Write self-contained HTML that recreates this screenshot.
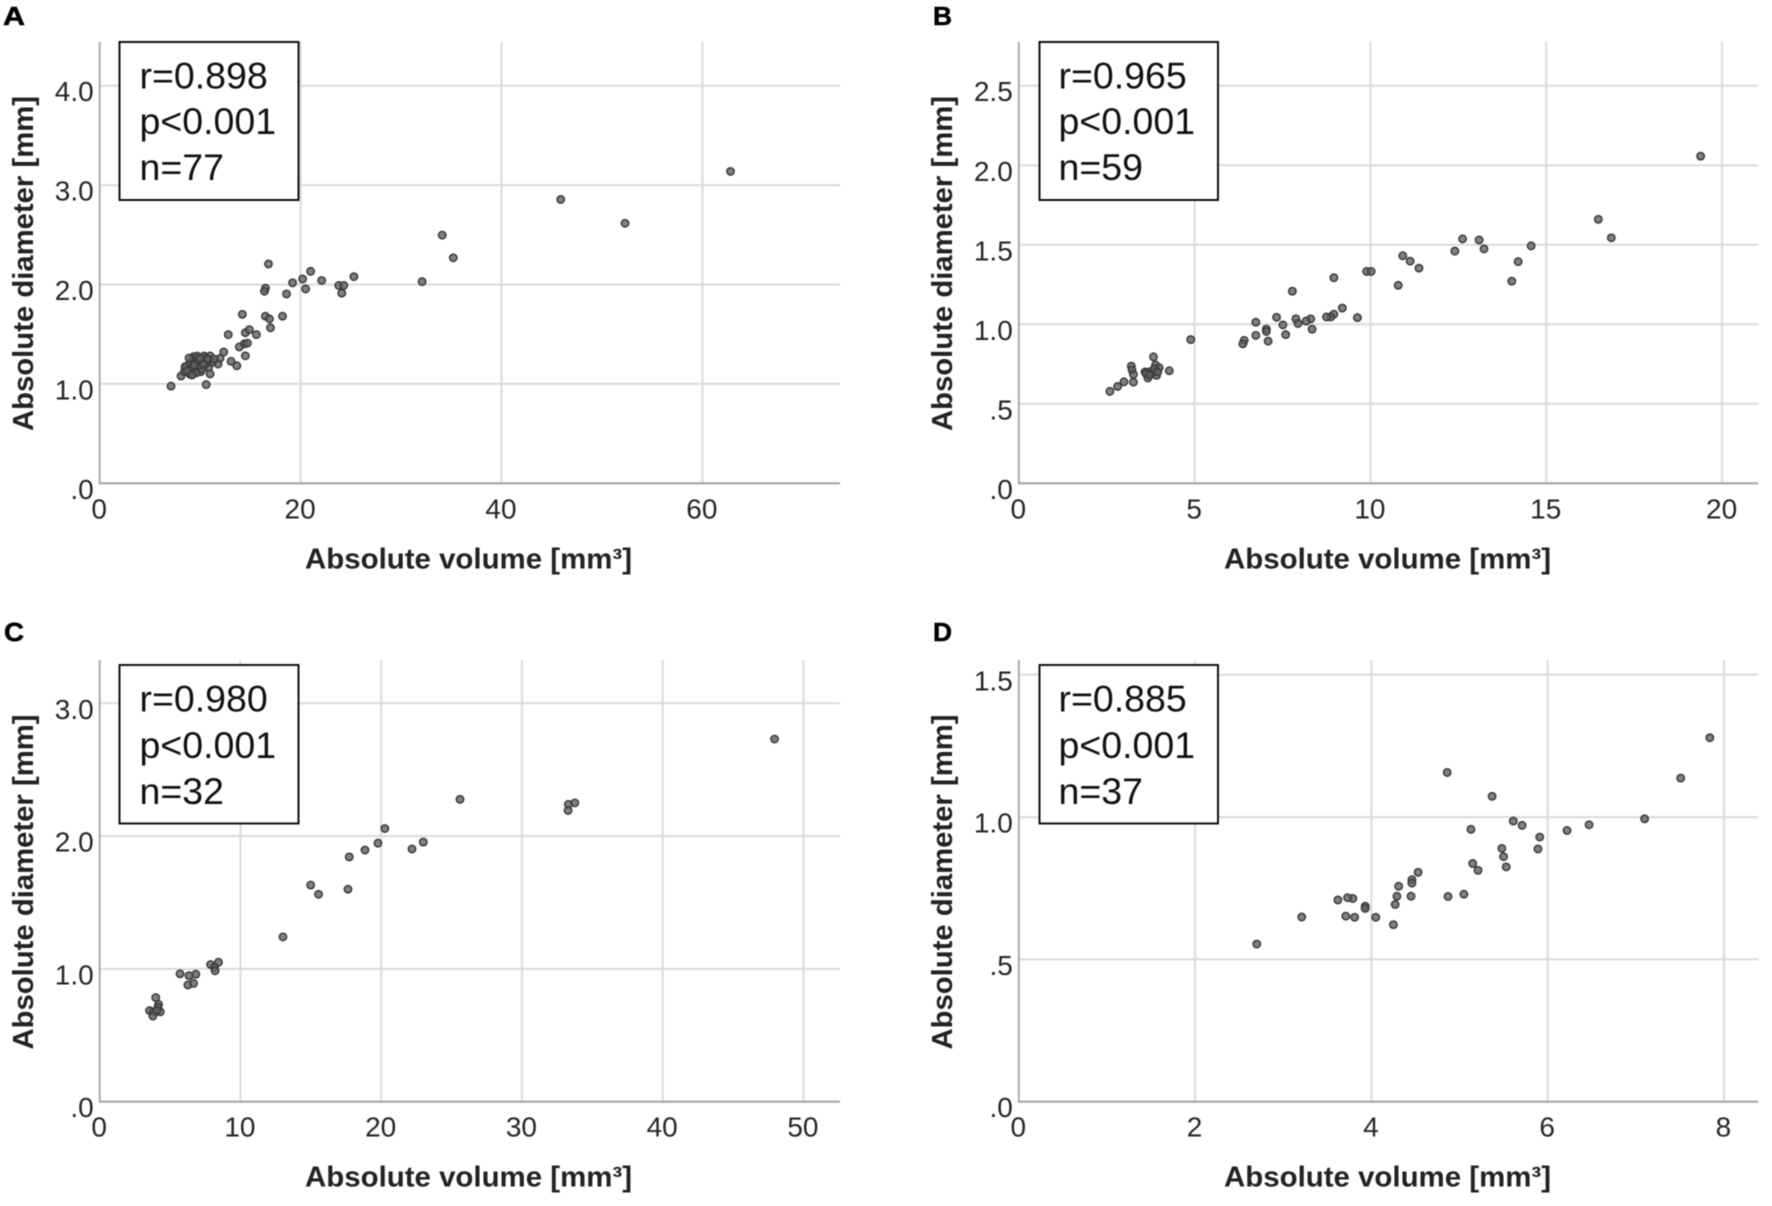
<!DOCTYPE html>
<html lang="en">
<head>
<meta charset="utf-8">
<title>Absolute diameter vs absolute volume</title>
<style>
html,body{margin:0;padding:0;background:#fff;}
body{width:1772px;height:1206px;overflow:hidden;}
svg{display:block;filter:blur(0.6px);}
text{font-family:"Liberation Sans",Arial,sans-serif;fill:#1a1a1a;}
.letter{font-weight:700;font-size:26px;fill:#000;stroke:#000;stroke-width:0.5px;}
.title{font-weight:700;font-size:28.5px;fill:#222;}
.stat{font-size:37.5px;fill:#111;}
.tick{font-size:28px;fill:#262626;}
.box{fill:#fff;stroke:#111;stroke-width:2;}
</style>
</head>
<body>
<svg id="figure" width="1772" height="1206" viewBox="0 0 1772 1206" xmlns="http://www.w3.org/2000/svg">
  <rect width="1772" height="1206" fill="#fff"/>

  <g id="panel-a">
    <g id="a-axes"></g>
    <text class="letter" x="3" y="25" textLength="22" lengthAdjust="spacingAndGlyphs">A</text>
    <text class="title" transform="translate(33,431) rotate(-90)" textLength="335" lengthAdjust="spacingAndGlyphs">Absolute diameter [mm]</text>
    <text class="title" x="305" y="568.5" textLength="327" lengthAdjust="spacingAndGlyphs">Absolute volume [mm³]</text>
    <rect class="box" x="119.5" y="42" width="179" height="158"/>
    <text class="stat" x="139.5" y="88.5">r=0.898</text>
    <text class="stat" x="139.5" y="134">p&lt;0.001</text>
    <text class="stat" x="139.5" y="180">n=77</text>
    <g id="a-points"></g>
  </g>

  <g id="panel-b">
    <g id="b-axes"></g>
    <text class="letter" x="933" y="25" textLength="19" lengthAdjust="spacingAndGlyphs">B</text>
    <text class="title" transform="translate(952,431) rotate(-90)" textLength="335" lengthAdjust="spacingAndGlyphs">Absolute diameter [mm]</text>
    <text class="title" x="1224" y="568.5" textLength="327" lengthAdjust="spacingAndGlyphs">Absolute volume [mm³]</text>
    <rect class="box" x="1039.5" y="42" width="178.5" height="158"/>
    <text class="stat" x="1058.5" y="88.5">r=0.965</text>
    <text class="stat" x="1058.5" y="134">p&lt;0.001</text>
    <text class="stat" x="1058.5" y="180">n=59</text>
    <g id="b-points"></g>
  </g>

  <g id="panel-c">
    <g id="c-axes"></g>
    <text class="letter" x="4" y="641" textLength="20" lengthAdjust="spacingAndGlyphs">C</text>
    <text class="title" transform="translate(33,1049.5) rotate(-90)" textLength="335" lengthAdjust="spacingAndGlyphs">Absolute diameter [mm]</text>
    <text class="title" x="305" y="1186.5" textLength="327" lengthAdjust="spacingAndGlyphs">Absolute volume [mm³]</text>
    <rect class="box" x="119.5" y="665" width="179" height="158.5"/>
    <text class="stat" x="139.5" y="711.5">r=0.980</text>
    <text class="stat" x="139.5" y="758">p&lt;0.001</text>
    <text class="stat" x="139.5" y="804">n=32</text>
    <g id="c-points"></g>
  </g>

  <g id="panel-d">
    <g id="d-axes"></g>
    <text class="letter" x="933" y="641" textLength="19" lengthAdjust="spacingAndGlyphs">D</text>
    <text class="title" transform="translate(952,1049.5) rotate(-90)" textLength="335" lengthAdjust="spacingAndGlyphs">Absolute diameter [mm]</text>
    <text class="title" x="1224" y="1186.5" textLength="327" lengthAdjust="spacingAndGlyphs">Absolute volume [mm³]</text>
    <rect class="box" x="1039.5" y="665" width="178.5" height="158.5"/>
    <text class="stat" x="1058.5" y="711.5">r=0.885</text>
    <text class="stat" x="1058.5" y="758">p&lt;0.001</text>
    <text class="stat" x="1058.5" y="804">n=37</text>
    <g id="d-points"></g>
  </g>
</svg>

<script>
// Panel A data
const aVolume = [62.8,45.9,52.3,34.1,35.2,32.1,16.8,16.5,16.4,19.2,20.2,21.0,22.1,20.5,18.6,23.8,24.3,24.1,25.3,
  14.2,16.5,16.9,18.2,17.0,12.8,14.5,14.9,15.6,14.4,13.9,14.5,14.7,7.1,10.6,
  8.10,8.43,8.66,9.33,9.92,10.39,10.99,10.92,10.16,9.33,9.66,10.39,10.85,8.99,9.49,10.06,10.99,8.5,11.78,11.98,12.35,13.08,13.65,
  9.0,9.5,9.7,10.2,9.1,10.6,9.9,10.5,11.2,8.9,9.3,8.7,10.3,9.8,10.8,9.6,10.0,9.4,11.4,9.2];
const aDiameter = [3.138,2.856,2.616,2.497,2.269,2.029,2.207,1.963,1.932,2.017,2.056,2.133,2.04,1.956,1.905,1.99,1.99,1.913,2.079,
  1.70,1.681,1.654,1.681,1.565,1.496,1.515,1.546,1.496,1.403,1.372,1.283,1.41,0.978,0.993,
  1.079,1.123,1.18,1.274,1.267,1.281,1.281,1.24,1.224,1.207,1.167,1.18,1.167,1.097,1.14,1.123,1.10,1.173,1.2,1.258,1.321,1.227,1.183,
  1.21,1.23,1.28,1.15,1.13,1.21,1.19,1.26,1.22,1.26,1.17,1.13,1.2,1.24,1.25,1.11,1.26,1.19,1.25,1.09];
const aXTicks = [0,20,40,60];
const aYTicks = [0,1,2,3,4];

// Panel B data
const bVolume = [19.39,16.48,16.85,14.57,12.62,13.09,13.23,12.4,14.2,14.02,10.92,11.13,11.38,9.89,10.02,10.79,8.96,7.78,
  9.2,8.96,8.87,8.75,9.63,7.33,7.88,8.3,8.17,7.94,7.51,6.74,8.34,7.04,7.04,6.74,7.59,7.09,6.41,6.37,4.89,4.28,
  3.83,3.89,3.99,3.92,3.79,3.59,3.7,3.67,3.2,3.22,3.26,3.26,2.99,2.81,2.59,3.85,3.95,3.62,3.72];
const bDiameter = [2.057,1.66,1.544,1.493,1.537,1.53,1.474,1.46,1.394,1.271,1.431,1.397,1.353,1.332,1.332,1.245,1.293,1.208,
  1.102,1.063,1.046,1.046,1.042,1.044,1.034,1.034,1.02,1.005,0.996,1.013,0.969,0.969,0.955,0.93,0.935,0.894,0.899,0.877,0.904,0.708,
  0.795,0.744,0.727,0.679,0.696,0.70,0.70,0.662,0.737,0.713,0.684,0.636,0.638,0.609,0.578,0.72,0.70,0.69,0.68];
const bXTicks = [0,5,10,15,20];
const bYTicks = [0,0.5,1,1.5,2,2.5];

// Panel C data
const cVolume = [47.95,25.6,33.76,33.3,33.28,20.26,19.77,22.99,22.19,18.85,17.73,17.64,14.99,15.55,13.02,8.44,7.88,8.16,8.2,
  5.71,6.83,6.35,6.27,6.67,3.98,4.18,4.14,4.3,3.54,3.82,3.78,4.06];
const cDiameter = [2.731,2.277,2.25,2.239,2.193,2.057,1.947,1.955,1.903,1.895,1.843,1.6,1.631,1.562,1.241,1.05,1.033,1.012,0.986,
  0.963,0.96,0.949,0.879,0.891,0.784,0.732,0.712,0.677,0.686,0.677,0.645,0.688];
const cXTicks = [0,10,20,30,40,50];
const cYTicks = [0,1,2,3];

// Panel D data
const dVolume = [7.84,7.51,7.10,6.47,6.22,5.91,5.89,5.71,5.61,5.37,4.86,5.13,5.48,5.5,5.53,5.15,5.21,5.05,4.87,
  4.53,4.46,4.46,4.31,4.29,4.27,4.25,4.45,4.05,3.93,3.93,3.79,3.73,3.62,3.71,3.81,3.21,2.7];
const dDiameter = [1.279,1.137,0.994,0.973,0.953,0.93,0.888,0.971,0.986,1.073,1.157,0.957,0.89,0.861,0.825,0.837,0.813,0.729,0.721,
  0.806,0.78,0.768,0.757,0.722,0.693,0.622,0.722,0.648,0.687,0.679,0.714,0.717,0.709,0.652,0.648,0.649,0.554];
const dXTicks = [0,2,4,6,8];
const dYTicks = [0,0.5,1,1.5];

const SVG_NS = 'http://www.w3.org/2000/svg';

function linearScale(domainMax, pixelStart, pixelEnd) {
  return function (v) {
    return pixelStart + (v / domainMax) * (pixelEnd - pixelStart);
  };
}

function formatY(v) {
  return v.toFixed(1).replace(/^0\./, '.');
}

function line(parent, x1, y1, x2, y2, color, width, name) {
  const el = document.createElementNS(SVG_NS, 'line');
  el.setAttribute('x1', x1);
  el.setAttribute('y1', y1);
  el.setAttribute('x2', x2);
  el.setAttribute('y2', y2);
  el.setAttribute('stroke', color);
  el.setAttribute('stroke-width', width);
  
  
  parent.appendChild(el);
}

function label(parent, x, y, anchor, content, name) {
  const el = document.createElementNS(SVG_NS, 'text');
  el.setAttribute('class', 'tick');
  el.setAttribute('x', x);
  el.setAttribute('y', y);
  el.setAttribute('text-anchor', anchor);
  el.textContent = content;
  
  
  parent.appendChild(el);
}

function drawPanel(id, volume, diameter, xTicks, yTicks, xMax, yMax, left, right, top, bottom) {
  const x = linearScale(xMax, left, right);
  const y = linearScale(yMax, bottom, top);
  const axes = document.getElementById(id + '-axes');
  const points = document.getElementById(id + '-points');

  xTicks.forEach(function (t) {
    if (t !== 0) {
      line(axes, x(t), top, x(t), bottom, '#dadada', 2, 'x-gridline-' + t);
    }
    label(axes, x(t) - 0.5, bottom + 35, 'middle', String(t), 'x-tick-label-' + t);
  });
  yTicks.forEach(function (t) {
    if (t !== 0) {
      line(axes, left, y(t), right, y(t), '#dadada', 2, 'y-gridline-' + t);
    }
    label(axes, left - 6, y(t) + 15.5, 'end', formatY(t), 'y-tick-label-' + t);
  });
  line(axes, left, top, left, bottom + 1, '#ababab', 2, 'y-axis-line');
  line(axes, left, bottom, right, bottom, '#a6a6a6', 2.2, 'x-axis-line');

  volume.forEach(function (v, i) {
    const c = document.createElementNS(SVG_NS, 'circle');
    c.setAttribute('cx', x(v));
    c.setAttribute('cy', y(diameter[i]));
    c.setAttribute('r', 3.7);
    c.setAttribute('fill', '#626262');
    c.setAttribute('stroke', '#3a3a3a');
    c.setAttribute('stroke-width', 1.5);
    c.setAttribute('fill-opacity', 0.8);
    
    
    points.appendChild(c);
  });
}

drawPanel('a', aVolume, aDiameter, aXTicks, aYTicks, 73.7, 4.443, 99.7, 840, 41.7, 483.3);
drawPanel('b', bVolume, bDiameter, bXTicks, bYTicks, 21.03, 2.777, 1018.8, 1758.3, 41.7, 483.3);
drawPanel('c', cVolume, cDiameter, cXTicks, cYTicks, 52.6, 3.326, 99.7, 840, 660, 1101.7);
drawPanel('d', dVolume, dDiameter, dXTicks, dYTicks, 8.39, 1.552, 1018.8, 1758.3, 660, 1101.7);
</script>
</body>
</html>
